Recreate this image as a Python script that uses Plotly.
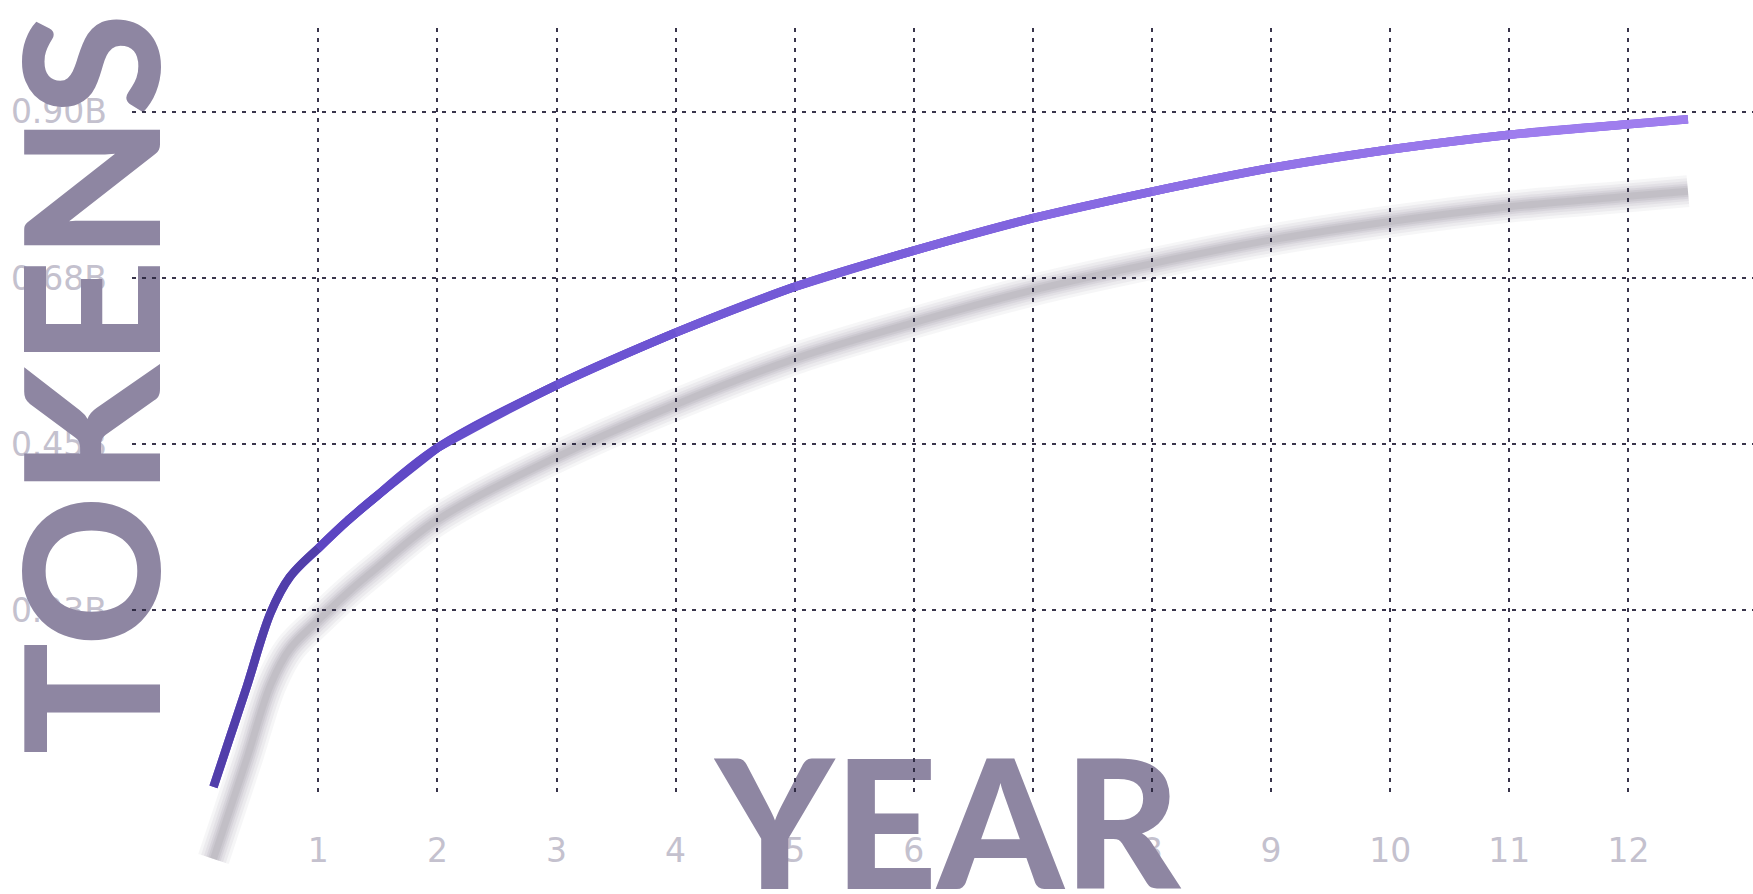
import plotly.graph_objects as go

# ---------------- data ----------------
years = [0.12, 0.26, 0.40, 0.60, 0.76, 1.0, 1.25, 1.5, 2, 3, 4, 5, 6, 7, 8, 9, 10, 11, 12, 12.5]
tokens_b = [-0.014, 0.054, 0.122, 0.222, 0.270, 0.309, 0.347, 0.381, 0.445, 0.530,
            0.601, 0.663, 0.712, 0.756, 0.792, 0.824, 0.849, 0.869, 0.883, 0.890]
x_ticks = [1, 2, 3, 4, 5, 6, 7, 8, 9, 10, 11, 12]
y_tickvals = [0.225, 0.45, 0.675, 0.9]
y_ticktext = ["0.23B", "0.45B", "0.68B", "0.90B"]
x_title = "YEAR"
y_title = "TOKENS"

# ---------------- geometry / style ----------------
W, H = 1753, 894
PL, PR, PT, PB = 132, 1753, 28, 794          # plot area in pixels
X0PX, XSC = 199.2, 119.1                      # pixel of year 0, px per year
Y0PX, YSC = 776.6, 738.7                      # pixel of 0B, px per 1B
SH = 72                                       # shadow drop (px)

x_dom = [PL / W, PR / W]
y_dom = [(H - PB) / H, (H - PT) / H]
xr = [(PL - X0PX) / XSC, (PR - X0PX) / XSC]
yr = [(Y0PX - PB) / YSC, (Y0PX - PT) / YSC]
xr2 = [(0 - X0PX) / XSC, (W - X0PX) / XSC]
yr2 = [(Y0PX + SH - H) / YSC, (Y0PX + SH - 0) / YSC]


def px2x(px):
    return (px - X0PX) / XSC


def px2y2(py):
    return (Y0PX + SH - py) / YSC


stops = [(0.0, (68, 53, 138)), (1.0, (90, 68, 192)), (4.0, (108, 84, 210)),
         (8.0, (135, 106, 226)), (12.5, (162, 128, 240))]


def grad(x):
    for (xa, ca), (xb, cb) in zip(stops[:-1], stops[1:]):
        if x <= xb:
            t = max(0.0, min(1.0, (x - xa) / (xb - xa)))
            c = [round(a + (b - a) * t) for a, b in zip(ca, cb)]
            return f"rgb({c[0]},{c[1]},{c[2]})"
    c = stops[-1][1]
    return f"rgb({c[0]},{c[1]},{c[2]})"


LW = 8.5
fig = go.Figure()

# subplot xy: carries the tick labels only (invisible trace keeps the subplot alive)
fig.add_trace(go.Scatter(x=years, y=tokens_b, xaxis="x", yaxis="y", mode="lines",
                         line=dict(width=0, color="rgba(0,0,0,0)"), opacity=0,
                         hoverinfo="skip", showlegend=False))

# blurred drop shadow (subplot x2y2, covers whole page)
for w, a in [(32, 0.06), (26, 0.07), (20, 0.08), (15, 0.09), (11, 0.10), (7, 0.10)]:
    fig.add_trace(go.Scatter(x=years, y=tokens_b, xaxis="x2", yaxis="y2", mode="lines",
                             line=dict(color=f"rgba(110,104,122,{a})", width=w, shape="spline"),
                             hoverinfo="skip", showlegend=False))

# main line (subplot x3y3) with colour gradient
fig.add_trace(go.Scatter(x=years, y=tokens_b, xaxis="x3", yaxis="y3", mode="lines",
                         line=dict(color=grad(5), width=LW, shape="spline"),
                         hoverinfo="skip", showlegend=False))
k = years.index(1.0)
chunks = [(0, k + 1)] + [(i, i + 3) for i in range(k, len(years) - 2)]
for a, b in chunks:
    xs, ys = years[a:b], tokens_b[a:b]
    fig.add_trace(go.Scatter(x=xs, y=ys, xaxis="x3", yaxis="y3", mode="lines",
                             line=dict(color=grad(xs[len(xs) // 2]), width=LW, shape="spline"),
                             hoverinfo="skip", showlegend=False))

tok_font = dict(family="Lato", size=186, color="#8e86a2", weight=900)
year_font = dict(family="Lato", size=180, color="#8e86a2", weight=900)
lab_font = dict(family="DejaVu Sans", size=33, color="#c4c1ce")

TX, TY = 86, 384
YX, YY = 948, 817
shapes = [
    dict(type="rect", xref="x2", yref="y2", layer="below",
         x0=px2x(TX - 10), x1=px2x(TX + 10), y0=px2y2(TY + 10), y1=px2y2(TY - 10),
         line=dict(width=0), fillcolor="rgba(0,0,0,0)",
         label=dict(text=y_title, textangle=-90, textposition="middle center", font=tok_font)),
    dict(type="rect", xref="x2", yref="y2", layer="below",
         x0=px2x(YX - 10), x1=px2x(YX + 10), y0=px2y2(YY + 10), y1=px2y2(YY - 10),
         line=dict(width=0), fillcolor="rgba(0,0,0,0)",
         label=dict(text=x_title, textangle=0, textposition="middle center", font=year_font)),
]

grid = dict(showgrid=True, gridcolor="rgba(40,36,60,0.92)", gridwidth=1.8, griddash="4px,6px")

fig.update_layout(
    width=W, height=H, margin=dict(l=0, r=0, t=0, b=0, pad=0),
    paper_bgcolor="white", plot_bgcolor="rgba(0,0,0,0)",
    showlegend=False, hovermode=False,
    # tick labels only
    xaxis=dict(domain=x_dom, range=xr, anchor="y", tickvals=x_ticks, showgrid=False,
               zeroline=False, showline=False, ticks="", ticklabelstandoff=34,
               tickfont=lab_font, automargin=False, fixedrange=True),
    yaxis=dict(domain=y_dom, range=yr, anchor="x", tickvals=y_tickvals, ticktext=y_ticktext,
               showgrid=False, zeroline=False, showline=False, ticks="", ticklabelstandoff=24,
               tickfont=lab_font, automargin=False, fixedrange=True),
    # whole-page layer for big titles and shadow
    xaxis2=dict(domain=[0, 1], range=xr2, anchor="y2", visible=False, fixedrange=True),
    yaxis2=dict(domain=[0, 1], range=yr2, anchor="x2", visible=False, fixedrange=True),
    # grid + main line
    xaxis3=dict(domain=x_dom, range=xr, anchor="y3", tickvals=x_ticks, showticklabels=False,
                zeroline=False, showline=False, ticks="", fixedrange=True, **grid),
    yaxis3=dict(domain=y_dom, range=yr, anchor="x3", tickvals=y_tickvals, showticklabels=False,
                zeroline=False, showline=False, ticks="", fixedrange=True, **grid),
    shapes=shapes,
)

fig.write_html("out.html")
